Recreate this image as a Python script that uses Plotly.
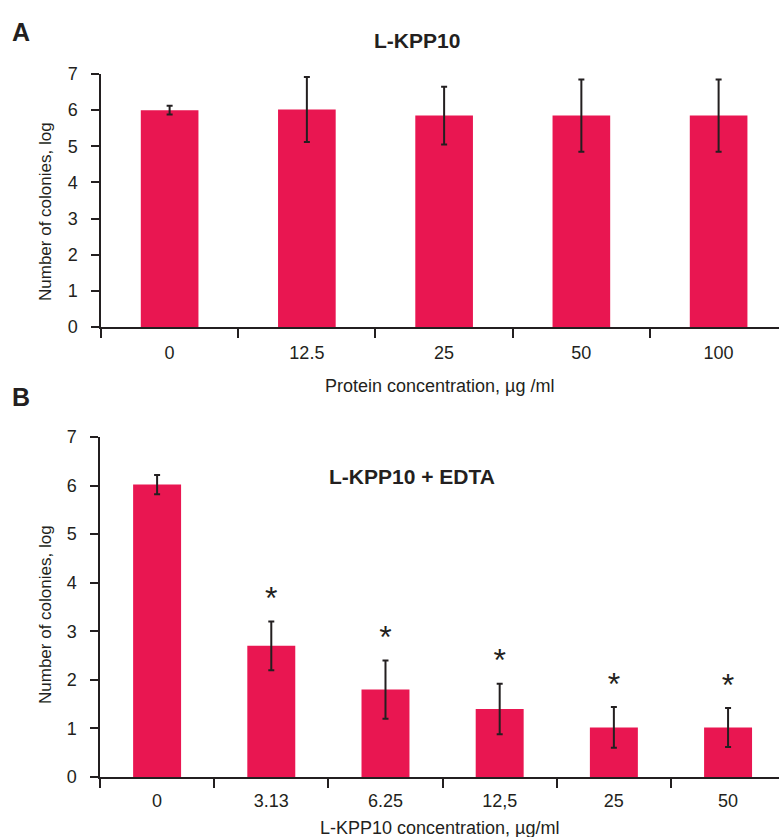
import plotly.graph_objects as go

# Panel A data
cats_a = ["0", "12.5", "25", "50", "100"]
vals_a = [6.0, 6.02, 5.85, 5.85, 5.85]
err_a = [0.12, 0.9, 0.8, 1.0, 1.0]

# Panel B data
cats_b = ["0", "3.13", "6.25", "12,5", "25", "50"]
vals_b = [6.02, 2.7, 1.8, 1.4, 1.02, 1.02]
err_b = [0.2, 0.5, 0.6, 0.52, 0.42, 0.4]
sig_b = ["", "*", "*", "*", "*", "*"]

BAR = "#E91651"
INK = "#231F20"
FONT = "Liberation Sans, Arial, sans-serif"

fig = go.Figure()

fig.add_trace(go.Bar(
    x=cats_a, y=vals_a, marker_color=BAR, width=0.42,
    error_y=dict(type="data", array=err_a, color=INK, thickness=2, width=3),
    xaxis="x", yaxis="y", showlegend=False))

fig.add_trace(go.Bar(
    x=cats_b, y=vals_b, marker_color=BAR, width=0.42,
    error_y=dict(type="data", array=err_b, color=INK, thickness=2, width=3),
    xaxis="x2", yaxis="y2", showlegend=False))

star_y = [v + e + 0.42 for v, e in zip(vals_b, err_b)]
fig.add_trace(go.Scatter(
    x=cats_b, y=star_y, mode="text", text=sig_b,
    textfont=dict(size=32, color=INK, family=FONT), textposition="middle center",
    xaxis="x2", yaxis="y2", showlegend=False, hoverinfo="skip"))

axis_common = dict(showline=True, linecolor=INK, linewidth=1.5, ticks="outside",
                   tickcolor=INK, tickwidth=1.5, showgrid=False, zeroline=False,
                   automargin=False,
                   tickfont=dict(size=18, color=INK, family=FONT))

TF = dict(size=18, color=INK, family=FONT)

fig.update_layout(
    template="none",
    width=779, height=837,
    margin=dict(l=0, r=0, t=0, b=0, pad=0),
    paper_bgcolor="white", plot_bgcolor="white",
    font=dict(family=FONT, color=INK),
    xaxis=dict(domain=[101/779, 1], anchor="y", type="category",
               range=[-0.5, 4.44], tickson="boundaries", ticklen=9,
               ticklabelstandoff=9, **axis_common),
    yaxis=dict(domain=[1-327/837, 1-74/837], anchor="x", range=[0, 7], dtick=1,
               ticklen=8, ticklabelstandoff=10, **axis_common),
    xaxis2=dict(domain=[100/779, 1], anchor="y2", type="category",
                range=[-0.5, 5.446], tickson="boundaries", ticklen=9,
                ticklabelstandoff=7, **axis_common),
    yaxis2=dict(domain=[1-777/837, 1-437/837], anchor="x2", range=[0, 7], dtick=1,
                ticklen=8, ticklabelstandoff=10, **axis_common),
    annotations=[
        dict(text="<b>A</b>", x=10/779, y=1-16/837, xref="paper", yref="paper",
             xanchor="left", yanchor="top", showarrow=False, font=dict(size=25, color=INK)),
        dict(text="<b>B</b>", x=10/779, y=1-381/837, xref="paper", yref="paper",
             xanchor="left", yanchor="top", showarrow=False, font=dict(size=25, color=INK)),
        dict(text="<b>L-KPP10</b>", x=417/779, y=1-40/837, xref="paper", yref="paper",
             xanchor="center", yanchor="middle", showarrow=False, font=dict(size=21, color=INK)),
        dict(text="<b>L-KPP10 + EDTA</b>", x=412/779, y=1-476/837, xref="paper", yref="paper",
             xanchor="center", yanchor="middle", showarrow=False, font=dict(size=21, color=INK)),
        dict(text="Protein concentration, µg /ml", x=440/779, y=1-386/837, xref="paper", yref="paper",
             xanchor="center", yanchor="middle", showarrow=False, font=TF),
        dict(text="L-KPP10 concentration, µg/ml", x=440/779, y=1-828/837, xref="paper", yref="paper",
             xanchor="center", yanchor="middle", showarrow=False, font=TF),
        dict(text="Number of colonies, log", x=45/779, y=1-212/837, xref="paper", yref="paper",
             xanchor="center", yanchor="middle", textangle=-90, showarrow=False, font=dict(size=17, color=INK, family=FONT)),
        dict(text="Number of colonies, log", x=45/779, y=1-615/837, xref="paper", yref="paper",
             xanchor="center", yanchor="middle", textangle=-90, showarrow=False, font=dict(size=17, color=INK, family=FONT)),
    ],
)

fig.write_html("out.html", config={"displayModeBar": False},
               post_script="document.body.style.margin='0';document.body.style.overflow='hidden';")
